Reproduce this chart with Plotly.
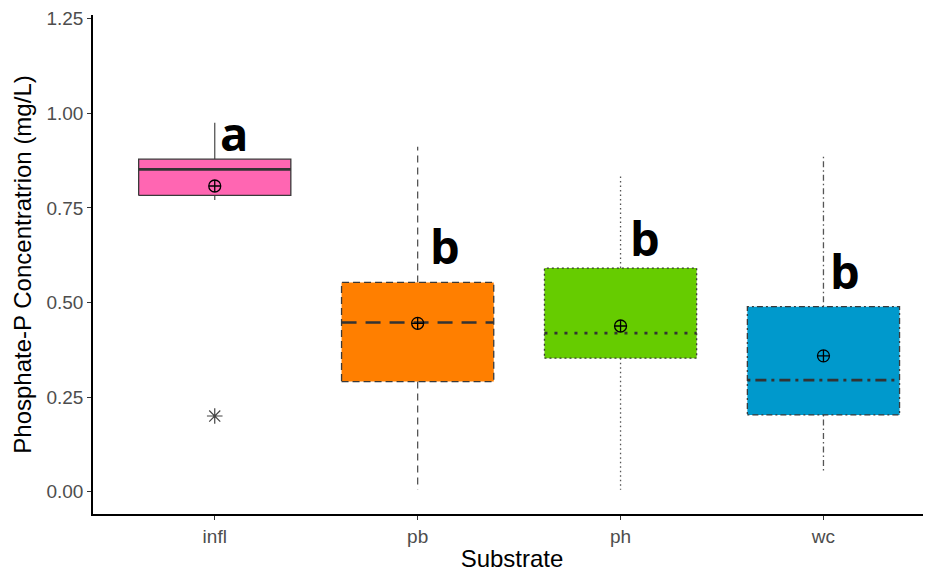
import plotly.graph_objects as go

categories = ["infl", "pb", "ph", "wc"]
q1 = [0.783, 0.291, 0.353, 0.203]
median = [0.852, 0.447, 0.419, 0.295]
q3 = [0.879, 0.553, 0.591, 0.489]
lower = [0.771, 0.005, 0.005, 0.053]
upper = [0.975, 0.912, 0.837, 0.886]
means = [0.808, 0.445, 0.438, 0.359]
outlier_cat = ["infl"]
outlier_val = [0.200]
letters = ["a", "b", "b", "b"]
letter_y = [0.948, 0.649, 0.670, 0.583]

fills = ["#FF66B2", "#FF7F00", "#66CC00", "#0099CC"]
outline_dash = ["solid", "7px,4px", "2px,3px", "2px,3px,6px,3px"]
whisk_dash = ["solid", "7px,5px", "1.5px,3px", "1.5px,3px,6px,3px"]
med_dash = ["solid", "15px,9px", "3px,7px", "3px,5px,11px,5px"]

half = 0.375
fig = go.Figure()
for i, c in enumerate(categories):
    # whiskers
    fig.add_trace(go.Scatter(
        x=[i, i, None, i, i], y=[q3[i], upper[i], None, q1[i], lower[i]],
        mode="lines", line=dict(color="#555555", width=1.3, dash=whisk_dash[i]),
        hoverinfo="skip", showlegend=False))
    # box
    fig.add_trace(go.Scatter(
        x=[i - half, i + half, i + half, i - half, i - half],
        y=[q1[i], q1[i], q3[i], q3[i], q1[i]],
        mode="lines", fill="toself", fillcolor=fills[i],
        line=dict(color="#3a3a3a", width=1.3, dash=outline_dash[i]),
        hoverinfo="skip", showlegend=False))
    # median
    fig.add_trace(go.Scatter(
        x=[i - half, i + half], y=[median[i], median[i]],
        mode="lines", line=dict(color="#333333", width=2.6, dash=med_dash[i]),
        hoverinfo="skip", showlegend=False))

# means
fig.add_trace(go.Scatter(
    x=list(range(len(categories))), y=means, mode="markers",
    marker=dict(symbol="circle-cross-open", size=12, color="black", line=dict(width=1.3)),
    showlegend=False))
# outliers
fig.add_trace(go.Scatter(
    x=[categories.index(c) for c in outlier_cat], y=outlier_val, mode="markers",
    marker=dict(symbol="asterisk-open", size=13, color="#444444", line=dict(width=1.2, color="#444444")),
    showlegend=False))

letter_dx = [0.094, 0.134, 0.12, 0.107]
for i, t in enumerate(letters):
    fig.add_annotation(x=i + letter_dx[i], y=letter_y[i], text="<b>" + t + "</b>",
                       showarrow=False, xanchor="center", yanchor="middle",
                       font=dict(family="Open Sans", size=47, color="black"))

fig.update_layout(
    width=923, height=565,
    margin=dict(l=85, r=0, t=7, b=59),
    plot_bgcolor="white", paper_bgcolor="white",
    font=dict(family="Liberation Sans, Arial, sans-serif"),
    xaxis=dict(
        range=[-0.6, 3.53], tickmode="array", tickvals=list(range(len(categories))),
        ticktext=categories, showgrid=False, zeroline=False, automargin=False,
        showline=True, linecolor="black", linewidth=1.5,
        ticks="outside", ticklen=4, tickcolor="#333333", tickwidth=1.3,
        tickfont=dict(size=19, color="#4D4D4D"),
        title=dict(text="Substrate", font=dict(size=24, color="black"), standoff=5),
    ),
    yaxis=dict(
        range=[-0.059, 1.26], tickmode="array",
        tickvals=[0, 0.25, 0.5, 0.75, 1.0, 1.25],
        ticktext=["0.00", "0.25", "0.50", "0.75", "1.00", "1.25"],
        showgrid=False, zeroline=False, automargin=False,
        showline=True, linecolor="black", linewidth=1.5,
        ticks="outside", ticklen=4, tickcolor="#333333", tickwidth=1.3,
        tickfont=dict(size=19, color="#4D4D4D"),
        title=dict(text="Phosphate-P Concentratrion (mg/L)", font=dict(size=24, color="black"), standoff=8),
    ),
)

fig.write_html("out.html")
